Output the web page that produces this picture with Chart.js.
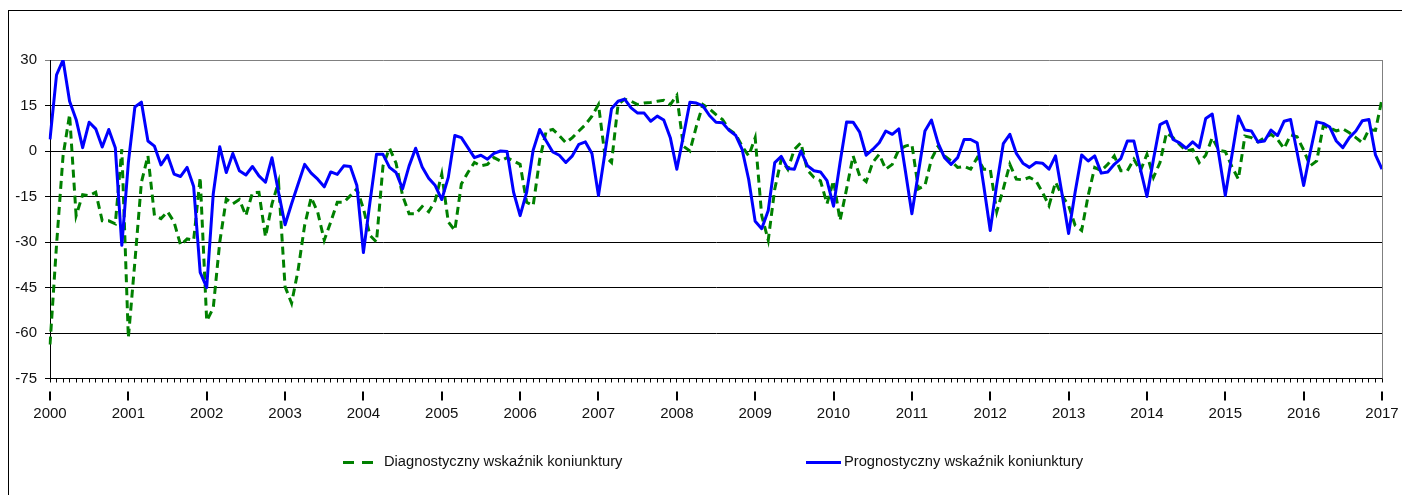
<!DOCTYPE html>
<html>
<head>
<meta charset="utf-8">
<script src="https://cdn.jsdelivr.net/npm/chart.js@4"></script>
<style>
  body { margin: 0; background: #fff; overflow: hidden; }
  #wrap { position: relative; width: 1402px; height: 495px; }
  #frame { position: absolute; left: 8px; top: 10px; width: 1500px; height: 600px; border: 1px solid #000; }
  #chart-box { position: absolute; left: 0; top: 0; width: 1402px; height: 495px; }
  .legend { position: absolute; top: 453px; font: 14.7px "Liberation Sans", Arial, sans-serif; color: #111; white-space: nowrap; }
  .mark { position: absolute; height: 3px; }
</style>
</head>
<body>
<div id="wrap">
  <div id="frame"></div>
  <div id="chart-box"><canvas id="chart"></canvas></div>
  <span class="mark" style="left:343px; top:461px; width:11px; background:#008000"></span>
  <span class="mark" style="left:362px; top:461px; width:11px; background:#008000"></span>
  <span class="legend" style="left:384px">Diagnostyczny wskaźnik koniunktury</span>
  <span class="mark" style="left:806px; top:461px; width:35px; background:#0000ff"></span>
  <span class="legend" style="left:844px">Prognostyczny wskaźnik koniunktury</span>
</div>
<script>
const years = ["2000", "2001", "2002", "2003", "2004", "2005", "2006", "2007", "2008",
  "2009", "2010", "2011", "2012", "2013", "2014", "2015", "2016", "2017"];

const yTicks = [-75, -60, -45, -30, -15, 0, 15, 30];

// monthly values, Jan 2000 - Jan 2017
const diagnostyczny = [
  -63.8, -31, -1.6, 12, -21.3, -14.4, -14.7, -13.6, -23, -23, -24, 0.6,
  -61.6, -36.5, -10.3, -1.6, -21.3, -22.3, -20, -23.4, -31, -29, -29.4, -8.7,
  -56, -51.8, -30, -15.8, -17.4, -16, -21.3, -13.8, -13.6, -28.3, -17.4, -10.3,
  -44.7, -50.2, -39.2, -24.5, -15.3, -20.2, -29.4, -23.4, -16.9, -16.9, -14.7, -12.5,
  -19, -27.8, -30, -4.9, 0.9, -4, -14.7, -20.7, -20.7, -18.3, -20, -16.3,
  -7.6, -23.4, -26.2, -10.9, -7.1, -3.8, -4.9, -4.4, -2.2, -3.3, -2.2, -3.3,
  -4.4, -16.9, -18, -2.7, 6.6, 7.1, 5.1, 2.7, 4.4, 6.6, 8.7, 11.5,
  15.3, -1.6, -3.8, 15.3, 17.1, 16.4, 15.3, 15.8, 16, 16.4, 16.7, 15.3,
  18.3, 1.6, 0, 8.2, 15.3, 13.9, 12, 10.4, 7.1, 5.5, 1.6, -1.6,
  4.4, -21.3, -29.4, -12.5, -2.7, -6, 0.5, 2.7, -6.3, -8.7, -9.8, -17.4,
  -9.8, -22.9, -12.5, -1.6, -8.2, -10.1, -3.8, -1.1, -6, -4.4, 0.5, 1.6,
  2.2, -12.5, -11.4, -2.7, 1.6, -1.6, -3.3, -5.4, -5.1, -6, -2.2, -6,
  -6, -20, -12.5, -4.4, -9.3, -9.5, -8.7, -9.8, -13.6, -18, -10.3, -14.7,
  -18, -24.5, -26.2, -14.7, -5.4, -6.5, -4.4, -1.6, -6.5, -6.5, -2.7, -6.5,
  -1.1, -8.7, -3.8, 6, 4.4, 2.2, 0, 0.5, -3.8, -1.4, 4.4, 0.3,
  -0.2, -5.1, -9.3, 4.9, 4.4, 3, 4.4, 5.5, 3.8, 0.8, 5.3, 4.7,
  0.3, -4.9, -3.3, 8.2, 7.6, 6.6, 7.3, 6, 4.4, 2.7, 7.1, 6.8,
  17.1
];

const prognostyczny = [
  3.8, 25.1, 30, 16.4, 10.4, 1.1, 9.5, 7.3, 1.3, 7.1, 1.1, -31.1,
  -3.8, 14.5, 16.1, 3.3, 1.6, -4.6, -1.4, -7.6, -8.4, -5.4, -11.7, -40,
  -45, -14.2, 1.4, -7.1, -0.8, -6.5, -7.9, -5.1, -8.2, -10.3, -2.2, -13.6,
  -24.3, -17.4, -10.9, -4.4, -7.3, -9.3, -11.8, -6.9, -7.7, -4.9, -5.1, -11.4,
  -33.5, -16.9, -1.1, -1.1, -5.4, -7.1, -12.5, -4.9, 0.9, -5.3, -9, -11.4,
  -16, -8.7, 5.1, 4.4, 1.1, -2.2, -1.4, -2.7, -0.8, 0, -0.2, -13.6,
  -21.3, -13.6, 0.3, 7.1, 3.3, -0.3, -1.4, -3.8, -1.6, 2.2, 3, -0.8,
  -14.7, -0.5, 13.9, 16.4, 17.1, 14.2, 12.5, 12.5, 9.8, 11.5, 10.2, 4.4,
  -6, 4.9, 16.1, 15.8, 14.9, 11.7, 9.5, 9.3, 6.8, 5.2, 0.5, -9.3,
  -23.2, -25.6, -19.6, -3.8, -1.8, -5.8, -6, 0, -4.8, -6.5, -6.9, -9.8,
  -18.2, -3.8, 9.6, 9.5, 6.2, -1.4, 0.5, 2.7, 6.6, 5.5, 7.3, -6.5,
  -20.7, -7.1, 6.6, 10.2, 2.7, -2.2, -4.4, -2.2, 3.8, 3.8, 2.7, -11.4,
  -26.2, -11, 2.4, 5.5, -0.8, -4, -5.4, -3.8, -4, -6, -1.6, -14.2,
  -27.2, -13.6, -1.3, -3.3, -1.6, -7.3, -6.9, -4.4, -2.5, 3.3, 3.3, -6,
  -15, -2.7, 8.7, 9.8, 3.8, 2.7, 0.9, 3, 1.1, 10.7, 12.2, -1.1,
  -14.7, -1.6, 11.5, 6.9, 6.6, 3, 3.3, 6.9, 5.1, 9.8, 10.4, -0.5,
  -11.4, -0.5, 9.6, 9.1, 7.9, 3.3, 1.1, 4.4, 6.6, 10, 10.4, -1.3,
  -6
];

// one label per month, year name on January
const labels = prognostyczny.map((v, i) => (i % 12 === 0 ? years[i / 12] : ""));

const axisFont = { family: "'Liberation Sans', Arial, sans-serif", size: 15 };

const extras = {
  id: "extras",
  afterDraw(chart) {
    const { ctx, chartArea } = chart;
    const xs = chart.scales.x;
    ctx.save();
    // right border of plot area
    ctx.strokeStyle = "#808080";
    ctx.lineWidth = 1;
    ctx.beginPath();
    ctx.moveTo(Math.round(chartArea.right) + 0.5, chartArea.top);
    ctx.lineTo(Math.round(chartArea.right) + 0.5, chartArea.bottom);
    ctx.stroke();
    // year marks under the axis
    ctx.strokeStyle = "#000";
    ctx.lineWidth = 2;
    labels.forEach((l, i) => {
      if (!l) return;
      const x = Math.round(xs.getPixelForTick(i));
      ctx.beginPath();
      ctx.moveTo(x, chartArea.bottom + 13);
      ctx.lineTo(x, chartArea.bottom + 22);
      ctx.stroke();
    });
    ctx.restore();
  },
};

new Chart(document.getElementById("chart"), {
  type: "line",
  data: {
    labels,
    datasets: [
      {
        label: "Diagnostyczny wskaźnik koniunktury",
        data: diagnostyczny,
        borderColor: "#008000",
        borderWidth: 3,
        borderDash: [8, 5],
        pointRadius: 0,
        tension: 0,
        order: 1,
      },
      {
        label: "Prognostyczny wskaźnik koniunktury",
        data: prognostyczny,
        borderColor: "#0000ff",
        borderWidth: 3,
        borderJoinStyle: "round",
        pointRadius: 0,
        tension: 0,
        order: 0,
      },
    ],
  },
  options: {
    responsive: true,
    maintainAspectRatio: false,
    animation: false,
    layout: { padding: { left: 0, right: 20, top: 60, bottom: 76.5 } },
    plugins: {
      legend: { display: false },
      tooltip: { enabled: false },
    },
    scales: {
      x: {
        type: "category",
        offset: false,
        afterFit: (s) => {
          s.height = 40;
          s.paddingLeft = 0;
          s.paddingRight = 0;
        },
        grid: { drawOnChartArea: false, tickLength: 4, color: "#000" },
        border: { color: "#000", width: 1 },
        ticks: {
          autoSkip: false,
          maxRotation: 0,
          minRotation: 0,
          padding: 22,
          color: "#111",
          font: axisFont,
        },
      },
      y: {
        min: yTicks[0],
        max: yTicks[yTicks.length - 1],
        afterFit: (s) => { s.width = 50; },
        afterBuildTicks: (s) => { s.ticks = yTicks.map((v) => ({ value: v })); },
        grid: {
          tickLength: 5,
          color: (c) => (c.tick && c.tick.value === 30 ? "#808080" : "#000"),
        },
        border: { color: "#000", width: 1 },
        ticks: { padding: 8, color: "#111", font: axisFont },
      },
    },
  },
  plugins: [extras],
});
</script>
</body>
</html>
